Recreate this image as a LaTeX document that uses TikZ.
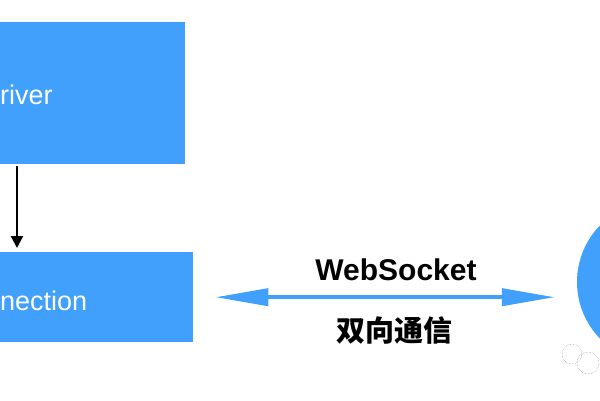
\documentclass[tikz,border=0pt]{standalone}
\usepackage{fontspec}
\setmainfont{Liberation Sans}
\newfontfamily\cjk{Noto Sans CJK SC}
\usetikzlibrary{arrows.meta}
\definecolor{wsblue}{RGB}{64,160,252}
\tikzset{
  box/.style={fill=wsblue, draw=none, rectangle, inner sep=0pt, anchor=north west},
  boxtext/.style={text=white, inner sep=0pt, anchor=base west, font=\fontsize{27}{30}\selectfont},
  vconn/.style={draw=black, line width=2.2pt, -{Triangle[length=12pt,width=12pt]}},
  biconn/.style={draw=wsblue, line width=4pt, {Triangle[length=53pt,width=17pt]}-{Triangle[length=53pt,width=17pt]}},
  wmark/.style={draw=gray!80, densely dotted, line width=0.5pt}
}
\begin{document}
\begin{tikzpicture}[x=1pt,y=-1pt]
\useasboundingbox (0,0) rectangle (600,400);
\clip (0,0) rectangle (600,400);
% boxes
\node[box, minimum width=185pt, minimum height=142pt] (driver) at (0,22) {};
\node[box, minimum width=193pt, minimum height=90pt] (conn) at (0,252) {};
\node[boxtext] (drivertext) at (0,104) {river};
\node[boxtext] (conntext) at (0,310) {nection};
% client circle
\node[circle, fill=wsblue, draw=none, minimum size=162pt, inner sep=0pt] (client) at (658,282) {};
% connectors
\coordinate (vx) at (17,0);
\draw[vconn] ([yshift=-2pt]driver.south -| vx) -- ([yshift=4pt]conn.north -| vx);
\draw[biconn] ([xshift=22pt]conn.east) -- ([xshift=-22pt]conn.east -| client.west);
% labels
\node[inner sep=0pt, anchor=base, font=\bfseries\fontsize{30}{32}\selectfont] (ws) at (396,280) {WebSocket};
\node[inner sep=0pt, anchor=center, font=\cjk\bfseries\fontsize{29}{32}\selectfont] (duplex) at (394,330) {双向通信};
% watermark
\draw[wmark] (572,354) circle (10);
\draw[wmark] (588,363) circle (11);
\end{tikzpicture}
\end{document}
